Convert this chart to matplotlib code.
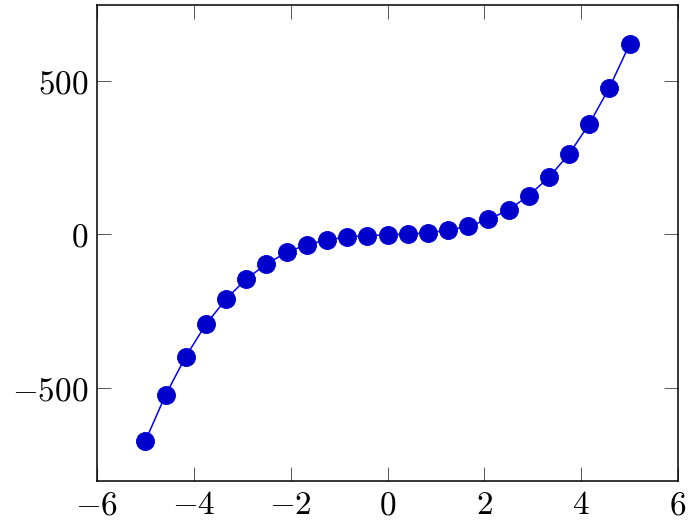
import matplotlib
matplotlib.use("Agg")
import matplotlib.pyplot as plt
from matplotlib.ticker import FuncFormatter, FixedLocator
import numpy as np

x_vals = [-5.0, -4.583, -4.167, -3.75, -3.333, -2.917, -2.5, -2.083, -1.667, -1.25,
          -0.833, -0.417, 0.0, 0.417, 0.833, 1.25, 1.667, 2.083, 2.5, 2.917,
          3.333, 3.75, 4.167, 4.583, 5.0]
y_vals = [-672, -523, -398, -293, -211, -145, -97, -59, -34, -18,
          -9, -5, -2, 0, 5, 13, 26, 48, 79, 126,
          185, 261, 359, 477, 618]
x_ticks = [-6, -4, -2, 0, 2, 4, 6]
y_ticks = [-500, 0, 500]

plt.rcParams['mathtext.fontset'] = 'cm'
plt.rcParams['font.family'] = 'DejaVu Serif'

fig = plt.figure(figsize=(6.9, 5.22), dpi=100)
ax = fig.add_axes([97/690, 41/522, (678-97)/690, (481-5)/522])
ax.plot(x_vals, y_vals, color=(0, 0, 1), linewidth=1.1, marker='o',
        markersize=13, markerfacecolor=(0, 0, 0.8), markeredgecolor=(0, 0, 0.85),
        markeredgewidth=0.6)
ax.set_xlim(-6, 6)
ax.set_ylim(-803, 746)
ax.xaxis.set_major_locator(FixedLocator(x_ticks))
ax.yaxis.set_major_locator(FixedLocator(y_ticks))
fmt = FuncFormatter(lambda v, p: r'$%d$' % v)
ax.xaxis.set_major_formatter(fmt)
ax.yaxis.set_major_formatter(fmt)
ax.tick_params(direction='in', length=10, width=0.7, color='#555555',
               top=True, right=True, labelsize=24, pad=6)
for s in ax.spines.values():
    s.set_linewidth(1.1)
fig.savefig('out.png', dpi=100)
